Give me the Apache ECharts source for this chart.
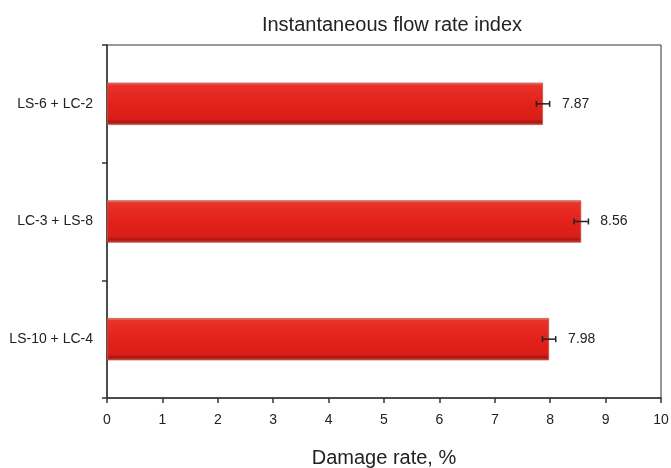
<!DOCTYPE html>
<html><head><meta charset="utf-8">
<script src="https://cdn.jsdelivr.net/npm/echarts@6/dist/echarts.min.js"></script>
<style>html,body{margin:0;padding:0;background:#fff}#c{width:671px;height:468px}</style>
</head><body><div id="c"></div>
<script>
const categories = ['LS-10 + LC-4', 'LC-3 + LS-8', 'LS-6 + LC-2'];
const values = [7.98, 8.56, 7.87];
const errors = [0.12, 0.13, 0.12];
const xTicks = [0, 1, 2, 3, 4, 5, 6, 7, 8, 9, 10];

const chart = echarts.init(document.getElementById('c'));
const font = 'Liberation Sans, Arial, sans-serif';
chart.setOption({
  animation: false,
  title: {
    text: 'Instantaneous flow rate index',
    left: 387, top: 10, textAlign: 'center',
    textStyle: { fontFamily: font, fontSize: 20, fontWeight: 'normal', color: '#222' }
  },
  grid: { left: 107, right: 10, top: 45, bottom: 70, outerBoundsMode: 'none', containLabel: false, show: true, borderColor: '#333', borderWidth: 1, backgroundColor: 'transparent' },
  xAxis: {
    type: 'value', min: xTicks[0], max: xTicks[xTicks.length - 1], interval: 1,
    name: 'Damage rate, %', nameLocation: 'middle', nameGap: 50,
    nameTextStyle: { fontFamily: font, fontSize: 20, color: '#222' },
    axisLine: { show: true, lineStyle: { color: '#333', width: 1.5 } },
    axisTick: { show: true, inside: false, length: 5, lineStyle: { color: '#333', width: 1.5 } },
    axisLabel: { fontFamily: font, fontSize: 14, color: '#222', margin: 15 },
    splitLine: { show: false }
  },
  yAxis: {
    type: 'category', data: categories,
    axisLine: { show: true, lineStyle: { color: '#333', width: 1.5 } },
    axisTick: { show: true, inside: false, length: 5, lineStyle: { color: '#333', width: 1.5 } },
    axisLabel: { fontFamily: font, fontSize: 14, color: '#222', margin: 14 },
    splitLine: { show: false }
  },
  series: [
    {
      type: 'bar', data: values, barWidth: '36%',
      itemStyle: {
        color: new echarts.graphic.LinearGradient(0, 0, 0, 1, [
          { offset: 0, color: '#f08a80' },
          { offset: 0.06, color: '#e8322a' },
          { offset: 0.5, color: '#e3211b' },
          { offset: 0.86, color: '#d91e18' },
          { offset: 0.93, color: '#a81812' },
          { offset: 1, color: '#c9453b' }
        ]),
        borderColor: '#c0564c', borderWidth: 0.8
      },
      label: {
        show: true, position: 'right', distance: 19,
        fontFamily: font, fontSize: 14, color: '#222',
        formatter: p => p.value.toFixed(2)
      },
      z: 2
    },
    {
      type: 'custom',
      data: values.map((v, i) => [i, v, errors[i]]),
      encode: { x: 1, y: 0 },
      renderItem: function (params, api) {
        const i = api.value(0), v = api.value(1), e = api.value(2);
        const a = api.coord([v - e, i]);
        const b = api.coord([v + e, i]);
        const h = 3;
        const st = { stroke: '#222', lineWidth: 1.5 };
        return {
          type: 'group',
          children: [
            { type: 'line', shape: { x1: a[0], y1: a[1], x2: b[0], y2: b[1] }, style: st },
            { type: 'line', shape: { x1: a[0], y1: a[1] - h, x2: a[0], y2: a[1] + h }, style: st },
            { type: 'line', shape: { x1: b[0], y1: b[1] - h, x2: b[0], y2: b[1] + h }, style: st }
          ]
        };
      },
      z: 3
    }
  ]
});
</script></body></html>
